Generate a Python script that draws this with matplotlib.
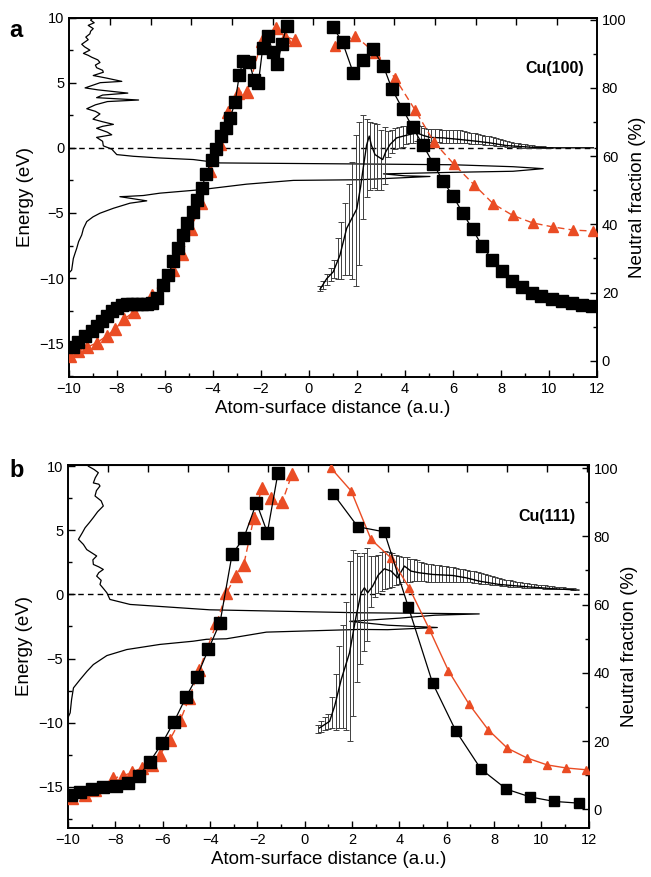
import matplotlib
matplotlib.use('Agg')
import matplotlib.pyplot as plt
from matplotlib.ticker import MultipleLocator

plt.rcParams['font.family'] = ['Liberation Sans', 'DejaVu Sans']

RED = '#EA4C24'

# ---------------- panel a : Cu(100) ----------------
a_dos_x = [-8.99, -9.1, -8.95, -9.2, -8.99, -9.1, -9.13, -9.3, -9.2, -9.47, -9.35, -9.13,
           -9.4, -9.2, -9.05, -8.8, -8.71, -8.9, -8.85, -8.6, -8.57, -8.99, -8.43, -7.8,
           -8.7, -9.33, -8.8, -7.55, -8.6, -8.85, -7.1, -8.4, -8.9, -9.26, -8.9, -8.71,
           -9.0, -8.6, -8.15, -8.6, -8.85, -8.4, -8.22, -8.85, -8.6, -8.57, -8.22, -8.01,
           -7.32, -6.21, -4.82, -3.71, 2.12, 6.0, 8.5, 9.76, 8.5, 6.0, 3.1, 4.0, 5.04,
           2.12, -0.65, -2.6, -4.54, -6.21, -6.9, -7.6, -7.88, -6.76, -7.46, -8.15, -8.71,
           -9.0, -9.26, -9.4, -9.47, -9.6, -9.68, -9.75, -9.82, -9.89, -10.0]
a_dos_e = [10.0, 9.8, 9.6, 9.4, 9.15, 8.95, 8.75, 8.5, 8.3, 7.95, 7.75, 7.5,
           7.25, 7.1, 6.95, 6.75, 6.55, 6.35, 6.15, 5.95, 5.8, 5.55, 5.35, 5.1,
           5.0, 4.6, 4.45, 4.2, 4.05, 3.85, 3.67, 3.55, 3.3, 3.0, 2.8, 2.6,
           2.2, 2.0, 1.8, 1.65, 1.5, 1.2, 1.0, 0.8, 0.5, 0.15, -0.1, -0.52,
           -0.65, -0.78, -0.9, -1.16, -1.24, -1.3, -1.45, -1.6, -1.8, -1.88, -2.0, -2.15, -2.2,
           -2.45, -2.5, -2.79, -3.22, -3.48, -3.66, -3.73, -3.75, -4.07, -4.25, -4.64, -5.02,
           -5.3, -5.66, -6.2, -6.69, -7.2, -7.72, -8.1, -8.50, -9.39, -9.6]

a_line_x = [0.46, 0.74, 1.01, 1.29, 1.57, 1.99, 2.15, 2.26, 2.4, 2.51, 2.6, 2.75, 2.9, 3.07,
            3.2, 3.38, 3.65, 3.93, 4.21, 4.49, 4.76, 5.04, 5.6, 6.29, 7.0, 7.54, 8.2, 8.65,
            9.3, 9.9, 11.85]
a_line_e = [-10.86, -10.04, -9.52, -8.24, -6.18, -4.7, -3.0, -1.55, 0.2, 0.9, 0.2, -0.52, -0.7,
            -0.9, -0.3, 0.26, 0.76, 0.9, 1.03, 1.15, 0.95, 0.8, 0.76, 0.64, 0.5, 0.38, 0.18, 0.12,
            0.04, 0.0, 0.0]

a_eb_x = [0.45, 0.60, 0.75, 0.90, 1.05, 1.20, 1.35, 1.50, 1.65, 1.80, 1.95, 2.10, 2.25, 2.40,
          2.55, 2.70, 2.85, 3.00, 3.15, 3.30, 3.45, 3.60, 3.75, 3.90, 4.05, 4.20, 4.35, 4.50,
          4.65, 4.80, 4.95, 5.10, 5.25, 5.40, 5.55, 5.70, 5.85, 6.00, 6.15, 6.30, 6.45, 6.60,
          6.75, 6.90, 7.05, 7.20, 7.35, 7.50, 7.65, 7.80, 7.95, 8.10, 8.25, 8.40, 8.55, 8.70,
          8.85, 9.00, 9.15, 9.30, 9.45, 9.60, 9.75, 9.90, 10.05]
a_eb_e = [-10.8, -10.5, -10.1, -9.7, -9.3, -8.5, -7.9, -7.0, -6.3, -5.6, -4.8, -3.5, -1.5, -0.8,
          -0.6, -0.6, -0.7, -0.9, -0.6, 0.3, 0.5, 0.7, 0.8, 0.9, 1.0, 1.05, 1.1, 1.15,
          1.05, 1.0, 0.95, 0.95, 0.95, 0.92, 0.9, 0.9, 0.9, 0.9, 0.9, 0.88, 0.85, 0.8,
          0.75, 0.7, 0.66, 0.62, 0.58, 0.55, 0.5, 0.45, 0.4, 0.35, 0.3, 0.26, 0.22, 0.19,
          0.16, 0.14, 0.12, 0.1, 0.08, 0.06, 0.05, 0.04, 0.03]
a_eb_err = [0.2, 0.3, 0.4, 0.5, 0.7, 1.6, 2.2, 2.8, 3.5, 4.5, 5.8, 5.5, 4.0, 3.0,
            2.6, 2.5, 2.5, 2.3, 2.2, 1.0, 0.9, 0.8, 0.8, 0.8, 0.7, 0.7, 0.7, 0.6,
            0.6, 0.55, 0.5, 0.5, 0.5, 0.5, 0.5, 0.5, 0.5, 0.5, 0.5, 0.48, 0.46, 0.44,
            0.42, 0.4, 0.38, 0.36, 0.34, 0.32, 0.3, 0.28, 0.26, 0.24, 0.22, 0.2, 0.18, 0.16,
            0.14, 0.12, 0.11, 0.1, 0.09, 0.08, 0.07, 0.06, 0.05]

a_sq_l_x = [-9.82, -9.61, -9.33, -9.05, -8.85, -8.64, -8.43, -8.22, -8.01, -7.80, -7.60, -7.39,
            -7.18, -6.97, -6.76, -6.55, -6.35, -6.07, -5.86, -5.65, -5.45, -5.24, -5.10, -4.82,
            -4.65, -4.47, -4.29, -4.05, -3.89, -3.67, -3.47, -3.29, -3.08, -2.90, -2.74, -2.49,
            -2.28, -2.11, -1.93, -1.70, -1.51, -1.32, -1.13, -0.93]
a_sq_l_nf = [4.0, 5.4, 7.3, 8.8, 10.2, 11.7, 13.1, 14.6, 15.6, 16.2, 16.5, 16.5,
             16.5, 16.5, 16.5, 17.0, 18.5, 22.3, 25.2, 29.1, 33.0, 36.8, 40.4, 43.6,
             47.0, 50.6, 54.7, 58.8, 62.2, 65.8, 68.2, 71.1, 75.7, 83.9, 88.0, 87.5,
             82.2, 81.3, 91.6, 95.1, 90.4, 87.0, 92.8, 98.0]
a_sq_r_x = [1.01, 1.40, 1.85, 2.26, 2.65, 3.10, 3.46, 3.90, 4.32, 4.76, 5.18, 5.57, 5.99, 6.40,
            6.82, 7.21, 7.64, 8.04, 8.46, 8.88, 9.29, 9.68, 10.11, 10.53, 10.97, 11.36, 11.78]
a_sq_r_nf = [97.7, 93.3, 84.3, 88.3, 91.4, 86.4, 79.6, 73.8, 68.4, 63.1, 57.8, 52.8, 48.4, 43.4,
             38.5, 33.7, 29.6, 26.2, 23.5, 21.5, 19.9, 18.9, 18.0, 17.5, 16.8, 16.2, 16.0]
a_tr_l_x = [-9.96, -9.61, -9.24, -8.85, -8.43, -8.08, -7.70, -7.29, -6.55, -5.65, -5.30, -4.92,
            -4.51, -4.12, -3.71, -3.36, -2.97, -2.57, -1.97, -1.38, -1.0, -0.58]
a_tr_l_nf = [1.5, 3.0, 4.0, 5.2, 7.3, 9.3, 12.2, 14.4, 19.4, 26.7, 31.3, 38.5,
             46.2, 55.5, 63.4, 73.0, 78.6, 78.8, 93.8, 97.4, 95.0, 94.1]
a_tr_r_x = [1.08, 1.92, 2.75, 3.58, 4.42, 5.21, 6.04, 6.89, 7.68, 8.49, 9.32, 10.18, 11.01, 11.85]
a_tr_r_nf = [92.2, 95.3, 90.2, 82.9, 73.5, 64.1, 57.6, 51.5, 46.0, 42.6, 40.4, 39.2, 38.3, 38.0]

# ---------------- panel b : Cu(111) ----------------
b_dos_x = [-9.14, -8.9, -8.72, -8.85, -8.93, -8.7, -8.65, -8.8, -8.86, -8.6, -8.51, -8.75,
           -8.93, -9.1, -9.28, -9.4, -9.56, -9.35, -9.21, -9.0, -8.79, -8.95, -8.93, -8.7,
           -8.51, -8.7, -8.79, -8.6, -8.65, -8.5, -8.36, -8.23, -7.38, -4.01, 2.31, 5.5, 7.37,
           5.5, 4.7, 4.0, 1.9, 3.5, 5.6, 3.5, 2.31, -1.62, -3.31, -4.15, -4.72, -6.12, -7.52,
           -8.36, -8.93, -9.2, -9.49, -9.77, -9.85, -9.91, -10.0]
b_dos_e = [10.0, 9.75, 9.5, 9.1, 8.7, 8.6, 8.46, 8.1, 7.68, 7.3, 6.9, 6.45,
           6.0, 5.6, 5.2, 4.8, 4.3, 3.9, 3.5, 3.25, 3.0, 2.7, 2.34, 2.15,
           1.95, 1.7, 1.43, 1.1, 0.78, 0.45, 0.13, -0.39, -0.78, -1.2, -1.43, -1.48, -1.52,
           -1.62, -1.74, -1.85, -2.1, -2.4, -2.58, -2.75, -2.73, -2.94, -3.46, -3.5, -3.65, -3.9, -4.3,
           -4.77, -5.47, -6.0, -6.64, -7.29, -8.2, -9.24, -9.6]

b_line_x = [0.62, 1.05, 1.26, 1.54, 1.89, 2.17, 2.38, 2.52, 2.66, 2.87, 3.1, 3.36, 3.65, 3.92,
            4.21, 4.49, 4.84, 5.40, 6.24, 6.81, 7.37, 8.21, 9.05, 10.45, 11.58]
b_line_e = [-10.42, -9.9, -8.72, -6.64, -4.56, -1.7, 0.13, 0.52, 0.13, 0.65, 1.5, 2.0, 1.82, 1.3,
            2.21, 1.82, 1.69, 1.56, 1.48, 1.3, 1.04, 0.78, 0.65, 0.45, 0.34]

b_eb_x = [0.55, 0.70, 0.85, 1.00, 1.15, 1.30, 1.45, 1.60, 1.75, 1.90, 2.05, 2.20, 2.35, 2.50,
          2.65, 2.80, 2.95, 3.10, 3.25, 3.40, 3.55, 3.70, 3.85, 4.00, 4.15, 4.30, 4.45, 4.60,
          4.75, 4.90, 5.05, 5.20, 5.35, 5.50, 5.65, 5.80, 5.95, 6.10, 6.25, 6.40, 6.55, 6.70,
          6.85, 7.00, 7.15, 7.30, 7.45, 7.60, 7.75, 7.90, 8.05, 8.20, 8.35, 8.50, 8.65, 8.80,
          8.95, 9.10, 9.25, 9.40, 9.55, 9.70, 9.85, 10.00, 10.15, 10.30, 10.45, 10.60, 10.75,
          10.90, 11.05, 11.20, 11.35]
b_eb_e = [-10.5, -10.3, -10.1, -9.9, -9.2, -8.4, -7.2, -6.4, -5.6, -4.4, -3.0, -1.8, -1.2, -0.6,
          0.0, 1.0, 1.4, 1.6, 1.8, 1.9, 1.9, 1.9, 1.9, 1.9, 1.95, 1.95, 1.9, 1.9,
          1.85, 1.8, 1.75, 1.7, 1.7, 1.65, 1.65, 1.6, 1.6, 1.55, 1.55, 1.5, 1.5, 1.45,
          1.45, 1.4, 1.35, 1.3, 1.25, 1.2, 1.15, 1.1, 1.05, 1.0, 0.95, 0.9, 0.85, 0.8,
          0.78, 0.75, 0.72, 0.7, 0.67, 0.64, 0.62, 0.6, 0.58, 0.56, 0.54, 0.52, 0.5,
          0.48, 0.46, 0.44, 0.42]
b_eb_err = [0.3, 0.4, 0.5, 0.6, 1.2, 2.2, 3.2, 4.0, 5.0, 7.0, 6.5, 5.0, 4.2, 3.8,
            3.6, 2.0, 1.6, 1.5, 1.5, 1.5, 1.4, 1.3, 1.2, 1.1, 1.0, 0.95, 0.9, 0.85,
            0.8, 0.75, 0.7, 0.7, 0.7, 0.68, 0.66, 0.64, 0.62, 0.6, 0.58, 0.55, 0.52, 0.5,
            0.48, 0.46, 0.44, 0.42, 0.4, 0.38, 0.36, 0.34, 0.32, 0.3, 0.28, 0.26, 0.24, 0.22,
            0.2, 0.19, 0.18, 0.17, 0.16, 0.15, 0.14, 0.13, 0.12, 0.11, 0.1, 0.09, 0.08,
            0.07, 0.06, 0.05, 0.05]

b_sq_l_x = [-9.88, -9.49, -9.0, -8.51, -7.97, -7.48, -7.0, -6.54, -6.02, -5.52, -5.02, -4.55,
            -4.07, -3.58, -3.07, -2.57, -2.04, -1.58, -1.13]
b_sq_l_nf = [4.2, 5.2, 5.9, 6.5, 6.7, 7.7, 9.9, 14.0, 19.4, 25.7, 32.8, 38.9,
             46.9, 54.7, 74.7, 79.6, 89.8, 81.1, 98.6]
b_sq_r_x = [1.21, 2.24, 3.36, 4.37, 5.40, 6.38, 7.44, 8.52, 9.53, 10.54, 11.58]
b_sq_r_nf = [92.4, 82.8, 81.3, 59.4, 37.0, 23.0, 11.8, 5.9, 3.6, 2.3, 1.8]
b_tr_l_x = [-9.84, -9.28, -8.86, -8.09, -7.67, -7.31, -6.89, -6.47, -6.12, -5.70, -5.25, -4.88,
            -4.46, -3.73, -3.31, -2.92, -2.58, -2.15, -1.81, -1.44, -0.95, -0.54]
b_tr_l_nf = [3.3, 4.2, 5.7, 9.1, 9.8, 10.8, 12.1, 13.0, 16.0, 20.4, 26.2, 32.6,
             40.8, 54.5, 63.3, 68.4, 71.6, 85.4, 94.3, 91.1, 90.1, 98.2]
b_tr_r_x = [1.12, 1.96, 2.80, 3.65, 4.42, 5.26, 6.07, 6.94, 7.75, 8.56, 9.40, 10.24, 11.05, 11.86]
b_tr_r_nf = [99.9, 93.3, 79.1, 73.6, 64.8, 52.8, 40.6, 30.8, 23.3, 17.9, 15.0, 13.0, 12.1, 11.6]


def draw_panel(fig, rect, d, ylim_e, ylim_nf, top_ticks, name, tri_r_style):
    ax = fig.add_axes(rect)
    ax.plot(d['dos_x'], d['dos_e'], color='black', lw=0.9, zorder=2)
    ax.errorbar(d['eb_x'], d['eb_e'], yerr=d['eb_err'], fmt='none', ecolor='0.25',
                elinewidth=0.7, capsize=2.5, capthick=0.7, zorder=2)
    ax.plot(d['line_x'], d['line_e'], color='black', lw=1.0, zorder=3)
    ax.axhline(0, color='black', lw=1.0, ls=(0, (4, 3)), zorder=1)
    ax.set_xlim(-10, 12)
    ax.set_ylim(*ylim_e)
    ax.xaxis.set_major_locator(MultipleLocator(2))
    ax.xaxis.set_minor_locator(MultipleLocator(1))
    ax.yaxis.set_major_locator(MultipleLocator(5))
    ax.yaxis.set_minor_locator(MultipleLocator(2.5))
    ax.tick_params(which='both', direction='in', labelsize=10.5, width=1.0, top=False)
    ax.tick_params(which='major', length=5)
    ax.tick_params(which='minor', length=3)
    ax.set_ylabel('Energy (eV)', fontsize=13.5, labelpad=4)
    ax.set_xlabel('Atom-surface distance (a.u.)', fontsize=13.5, labelpad=3)
    for s in ax.spines.values():
        s.set_linewidth(1.2)

    sec = ax.secondary_xaxis('top')
    sec.set_xticks(top_ticks)
    sec.tick_params(direction='in', length=5, width=1.0, labeltop=False)

    ax2 = ax.twinx()
    ax2.plot(d['tr_l_x'], d['tr_l_nf'], color=RED, lw=1.0, ls=(0, (5, 3)),
             marker='^', ms=d['tr_l_ms'], mec=RED, zorder=4)
    ax2.plot(d['tr_r_x'], d['tr_r_nf'], color=RED, lw=1.0, ls=tri_r_style,
             marker='^', ms=d['tr_r_ms'], mec=RED, zorder=4)
    ax2.plot(d['sq_l_x'], d['sq_l_nf'], color='black', lw=0.9, marker='s',
             ms=d['sq_l_ms'], zorder=5)
    ax2.plot(d['sq_r_x'], d['sq_r_nf'], color='black', lw=0.9, marker='s',
             ms=d['sq_r_ms'], zorder=5)
    ax2.set_ylim(*ylim_nf)
    ax2.yaxis.set_major_locator(MultipleLocator(20))
    ax2.yaxis.set_minor_locator(MultipleLocator(10))
    ax2.tick_params(which='both', direction='in', labelsize=10.5, width=1.0)
    ax2.tick_params(which='major', length=5)
    ax2.tick_params(which='minor', length=3)
    ax2.set_ylabel('Neutral fraction (%)', fontsize=13.5, labelpad=2)
    for s in ax2.spines.values():
        s.set_linewidth(1.2)
    ax2.text(0.975, 0.857, name, transform=ax2.transAxes,
             fontsize=11.5, fontweight='bold', ha='right', va='center')
    return ax, ax2


fig = plt.figure(figsize=(6.51, 8.77), dpi=100)

panel_a = dict(dos_x=a_dos_x, dos_e=a_dos_e, line_x=a_line_x, line_e=a_line_e,
               eb_x=a_eb_x, eb_e=a_eb_e, eb_err=a_eb_err,
               sq_l_x=a_sq_l_x, sq_l_nf=a_sq_l_nf, sq_r_x=a_sq_r_x, sq_r_nf=a_sq_r_nf,
               tr_l_x=a_tr_l_x, tr_l_nf=a_tr_l_nf, tr_r_x=a_tr_r_x, tr_r_nf=a_tr_r_nf,
               sq_l_ms=8.5, sq_r_ms=8, tr_l_ms=8.5, tr_r_ms=7.5)
panel_b = dict(dos_x=b_dos_x, dos_e=b_dos_e, line_x=b_line_x, line_e=b_line_e,
               eb_x=b_eb_x, eb_e=b_eb_e, eb_err=b_eb_err,
               sq_l_x=b_sq_l_x, sq_l_nf=b_sq_l_nf, sq_r_x=b_sq_r_x, sq_r_nf=b_sq_r_nf,
               tr_l_x=b_tr_l_x, tr_l_nf=b_tr_l_nf, tr_r_x=b_tr_r_x, tr_r_nf=b_tr_r_nf,
               sq_l_ms=8, sq_r_ms=7.5, tr_l_ms=8, tr_r_ms=5.5)

ticks_a = [-8.29, -6.6, -4.9, -3.21, -1.52, 0.17, 1.87, 3.56, 5.25, 6.94, 8.63, 10.32]
ticks_b = [-8.3, -6.61, -4.93, -3.24, -1.56, 0.13, 1.82, 3.5, 5.19, 6.87, 8.56, 10.24, 11.93]

draw_panel(fig, [0.106, 0.570, 0.811, 0.410], panel_a, (-17.6, 10), (-4.8, 100.6),
           ticks_a, 'Cu(100)', (0, (5, 3)))
draw_panel(fig, [0.1045, 0.0562, 0.800, 0.4136], panel_b, (-18.2, 10.1), (-5.4, 100.9),
           ticks_b, 'Cu(111)', '-')

fig.text(0.014, 0.978, 'a', fontsize=17, fontweight='bold', va='top')
fig.text(0.014, 0.477, 'b', fontsize=17, fontweight='bold', va='top')

fig.savefig('out.png', dpi=100)
